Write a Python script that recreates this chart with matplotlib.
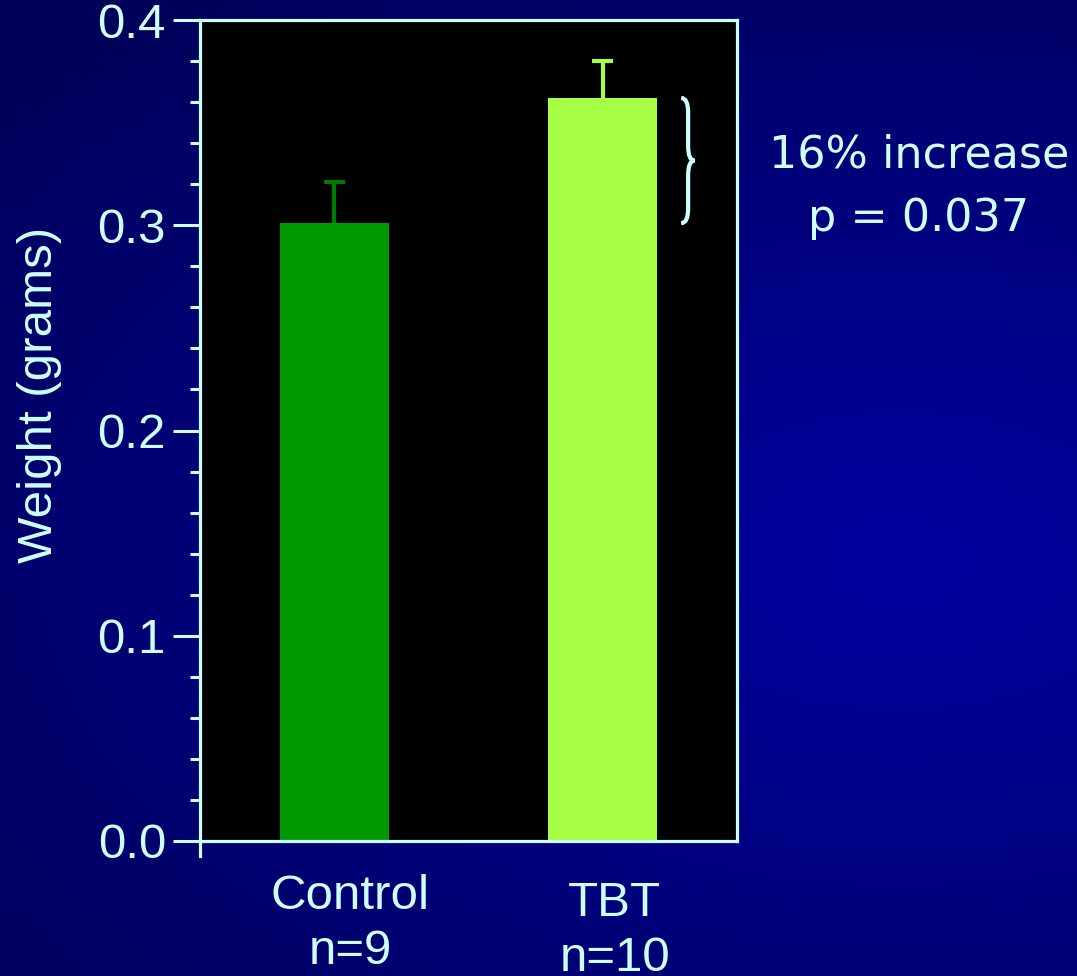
import numpy as np
import matplotlib
matplotlib.use("Agg")
import matplotlib.pyplot as plt
from matplotlib.path import Path
from matplotlib.patches import PathPatch
from matplotlib.ticker import MultipleLocator

# Data
groups = ["Control", "TBT"]
n_labels = ["n=9", "n=10"]
means = [0.301, 0.362]
errors = [0.020, 0.018]
bar_colors = ["#009900", "#A6FF44"]
err_colors = ["#007A00", "#A6FF44"]
yticks = [0.0, 0.1, 0.2, 0.3, 0.4]
annot_lines = ["16% increase", "p = 0.037"]

AX = "#CCFFFF"
W, H = 1077, 976
fig = plt.figure(figsize=(W / 100, H / 100), dpi=100)

# background gradient
bg = fig.add_axes([0, 0, 1, 1], zorder=-10)
yy, xx = np.mgrid[0:H, 0:W]
r = np.sqrt(((xx - 900) / 1100.0) ** 2 + ((yy - 560) / 650.0) ** 2)
v = np.clip(0xA0 - 0x40 * r, 0x58, 0xA0) / 255.0
img = np.zeros((H, W, 3))
img[..., 2] = v
bg.imshow(img, aspect="auto", extent=[0, 1, 0, 1])
bg.axis("off")

# main axes: x 200..737, y 20..841 px
ax = fig.add_axes([200 / W, 1 - 841 / H, 537 / W, 821 / H])
ax.set_facecolor("black")
x = np.arange(len(groups))
ax.bar(x, means, width=0.405, color=bar_colors, zorder=2)
cap = 0.04
for xi, m, e, c in zip(x, means, errors, err_colors):
    ax.vlines(xi, m, m + e, color=c, lw=3, zorder=3)
    ax.hlines(m + e, xi - cap, xi + cap, color=c, lw=3, zorder=3)

ax.set_xlim(-0.5, 1.5)
ax.set_ylim(0, 0.4)
ax.set_yticks(yticks)
ax.set_yticklabels([f"{t:.1f}" for t in yticks])
ax.yaxis.set_minor_locator(MultipleLocator(0.02))
ax.set_xticks([])
for s in ax.spines.values():
    s.set_color(AX)
    s.set_linewidth(2.3)
ax.tick_params(axis="y", which="major", length=19.5, width=2.2, color=AX,
               labelcolor=AX, labelsize=35.5, pad=5)
ax.tick_params(axis="y", which="minor", length=7.5, width=2.2, color=AX)
for lab in ax.get_yticklabels():
    lab.set_fontfamily("Liberation Sans")
# left spine extends below
ax.plot([-0.5, -0.5], [0, -0.0075], color=AX, lw=2.3, clip_on=False, zorder=5)

ax.set_ylabel("Weight (grams)", color=AX, fontsize=35.5, family="Liberation Sans",
              va="center", ha="center")
ax.yaxis.set_label_coords((40 - 200) / 537, (841 - 395) / 821)

# category labels
offs = [0.06, 0.045]
for xi, g, n, o in zip(x, groups, n_labels, [0, 5]):
    tr = ax.get_xaxis_transform()
    ax.annotate(g + "\n" + n, xy=(xi + offs[xi], 0), xycoords=tr,
                xytext=(0, -24 - o), textcoords="offset points",
                ha="center", va="top", color=AX, fontsize=35.5,
                family="Liberation Sans", linespacing=1.28)

# brace
ytop, ybot = means[1], means[0]
ymid = (ytop + ybot) / 2
d = 0.007
x0, x1, x2 = 1.292, 1.318, 1.342
verts = [(x0, ytop), (x1, ytop), (x1, ytop - d),
         (x1, ymid + d), (x1, ymid), (x2, ymid),
         (x1, ymid), (x1, ymid - d),
         (x1, ybot + d), (x1, ybot), (x0, ybot)]
codes = [Path.MOVETO, Path.CURVE3, Path.CURVE3,
         Path.LINETO, Path.CURVE3, Path.CURVE3,
         Path.CURVE3, Path.CURVE3,
         Path.LINETO, Path.CURVE3, Path.CURVE3]
ax.add_patch(PathPatch(Path(verts, codes), fill=False, edgecolor=AX, lw=3,
                       clip_on=False, zorder=4))

fig.text(919 / W, 1 - 155 / H, annot_lines[0], ha="center", va="center",
         color=AX, fontsize=32, family="DejaVu Sans")
fig.text(919 / W, 1 - 218 / H, annot_lines[1], ha="center", va="center",
         color=AX, fontsize=32, family="DejaVu Sans")

fig.savefig("out.png", dpi=100)
